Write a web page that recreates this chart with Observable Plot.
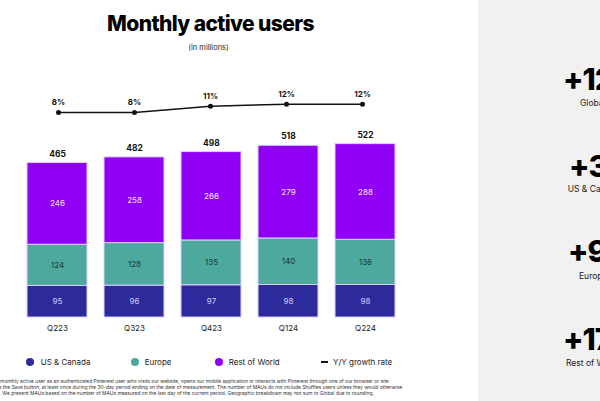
<!DOCTYPE html>
<html>
<head>
<meta charset="utf-8">
<script src="https://cdn.jsdelivr.net/npm/d3@7"></script>
<script src="https://cdn.jsdelivr.net/npm/@observablehq/plot@0.6"></script>
<style>
  html, body { margin: 0; padding: 0; }
  body { width: 600px; height: 401px; overflow: hidden; position: relative; background: #fff; font-family: Inter, "Noto Sans", sans-serif; color: #111; }
  .abs { position: absolute; white-space: nowrap; line-height: 1; }
  #panel { position: absolute; left: 478px; top: 0; width: 122px; height: 401px; background: #f1f1f1; }
  .big { font-weight: 800; font-size: 30px; letter-spacing: -1px; color: #000; }
  .small { font-size: 8.5px; color: #222; }
  .leg { font-size: 8px; color: #222; }
  .dot { position: absolute; width: 8px; height: 8px; border-radius: 50%; }
  .foot { font-size: 4.9px; color: #333; }
</style>
</head>
<body>
<div id="panel"></div>
<div class="abs" id="title" style="left:0;width:421px;text-align:center;top:12.5px;font-size:21px;font-weight:800;letter-spacing:-0.6px;color:#000;">Monthly active users</div>
<div class="abs" style="left:0;width:417px;text-align:center;top:44px;font-size:7.5px;color:#222;">(in millions)</div>
<div id="linechart" style="position:absolute;left:0;top:85px;"></div>
<div id="barchart" style="position:absolute;left:0;top:125px;"></div>
<div id="legend"></div>
<div id="footnote"></div>
<div id="side"></div>
<script>
const quarters = ["Q223", "Q323", "Q423", "Q124", "Q224"];
const regions = ["US & Canada", "Europe", "Rest of World"];
const usCanada = [95, 96, 97, 98, 98];
const europe = [124, 128, 135, 140, 136];
const restOfWorld = [246, 258, 266, 279, 288];
const totals = [465, 482, 498, 518, 522];
const growth = [8, 8, 11, 12, 12];
const regionColors = ["#2d2a9b", "#4da89d", "#9000f5"];
const labelColors = ["#cfd0ff", "#163c3a", "#f6eaff"];
const sideValues = ["+12%", "+3%", "+9%", "+17%"];
const sideLabels = ["Global", "US & Canada", "Europe", "Rest of World"];
const footLines = [
  "a monthly active user as an authenticated Pinterest user who visits our website, opens our mobile application or interacts with Pinterest through one of our browser or site",
  "as the Save button, at least once during the 30-day period ending on the date of measurement. The number of MAUs do not include Shuffles users unless they would otherwise",
  "s. We present MAUs based on the number of MAUs measured on the last day of the current period. Geographic breakdown may not sum to Global due to rounding."
];

const seriesValues = [usCanada, europe, restOfWorld];
const rows = [];
quarters.forEach((q, i) => {
  regions.forEach((r, j) => rows.push({quarter: q, region: r, value: seriesValues[j][i]}));
});
const totalRows = quarters.map((q, i) => ({quarter: q, total: totals[i]}));
const growthRows = quarters.map((q, i) => ({quarter: q, rate: growth[i]}));

// growth line
const line = Plot.plot({
  width: 420, height: 40,
  margin: 0,
  x: {type: "point", domain: quarters, range: [56.7, 364], padding: 0, axis: null},
  y: {domain: [8, 12], range: [27, 18.7], axis: null},
  style: {fontFamily: "Inter, sans-serif", background: "transparent", overflow: "visible"},
  marks: [
    Plot.line(growthRows, {x: "quarter", y: "rate", stroke: "#111", strokeWidth: 1.5}),
    Plot.dot(growthRows, {x: "quarter", y: "rate", r: 2.5, fill: "#111"}),
    Plot.text(growthRows, {x: "quarter", y: "rate", text: d => d.rate + "%", dy: -10, fontSize: 8, fontWeight: 700, fill: "#111"})
  ]
});
document.getElementById("linechart").appendChild(line);

// stacked bars
const textMarks = regions.map((r, j) =>
  Plot.text(rows, Plot.stackY({
    x: "quarter", y: "value",
    text: d => d.region === r ? String(d.value) : null,
    fill: labelColors[j], fontSize: 8
  }))
);
const bars = Plot.plot({
  width: 420, height: 215,
  marginTop: 6, marginBottom: 23, marginLeft: 7, marginRight: 6,
  x: {domain: quarters, padding: 0.223, label: null, tickSize: 0, tickPadding: 8},
  y: {domain: [0, 560], axis: null},
  color: {domain: regions, range: regionColors},
  style: {fontFamily: "Inter, sans-serif", fontSize: "8px", color: "#222", background: "transparent", overflow: "visible"},
  marks: [
    Plot.barY(rows, {x: "quarter", y: "value", fill: "region", stroke: "#ddd0ff", strokeWidth: 1}),
    ...textMarks,
    Plot.text(totalRows, {x: "quarter", y: "total", text: d => String(d.total), dy: -9, fontSize: 8.5, fontWeight: 700, fill: "#111"})
  ]
});
document.getElementById("barchart").appendChild(bars);

// legend
const legend = document.getElementById("legend");
const legItems = [
  {label: regions[0], color: regionColors[0], cx: 30.3, tx: 40.7},
  {label: regions[1], color: regionColors[1], cx: 135, tx: 144.7},
  {label: regions[2], color: regionColors[2], cx: 219, tx: 228.7}
];
legItems.forEach(it => {
  const d = document.createElement("div");
  d.className = "dot";
  d.style.left = (it.cx - 4) + "px";
  d.style.top = (362 - 4) + "px";
  d.style.background = it.color;
  legend.appendChild(d);
  const t = document.createElement("div");
  t.className = "abs leg";
  t.style.left = it.tx + "px";
  t.style.top = (362 - 4.5) + "px";
  t.textContent = it.label;
  legend.appendChild(t);
});
const dash = document.createElement("div");
dash.style.cssText = "position:absolute;left:321px;top:361px;width:7px;height:2px;background:#111;";
legend.appendChild(dash);
const gl = document.createElement("div");
gl.className = "abs leg";
gl.style.left = "333px";
gl.style.top = "357.5px";
gl.textContent = "Y/Y growth rate";
legend.appendChild(gl);

// footnote
const foot = document.getElementById("footnote");
const footLefts = [-4, -4, -3];
const footTops = [379, 385, 391];
footLines.forEach((s, i) => {
  const d = document.createElement("div");
  d.className = "abs foot";
  d.style.left = footLefts[i] + "px";
  d.style.top = footTops[i] + "px";
  d.textContent = s;
  foot.appendChild(d);
});

// side panel
const side = document.getElementById("side");
const bigLefts = [563, 569, 568, 563];
const bigBaselines = [90, 176.7, 262, 350];
const smallLefts = [580, 567.7, 579, 566];
const smallBaselines = [106, 192, 279, 366];
sideValues.forEach((v, i) => {
  const b = document.createElement("div");
  b.className = "abs big";
  b.style.left = bigLefts[i] + "px";
  b.style.top = (bigBaselines[i] - 0.863 * 30) + "px";
  b.textContent = v;
  side.appendChild(b);
  const s = document.createElement("div");
  s.className = "abs small";
  s.style.left = smallLefts[i] + "px";
  s.style.top = (smallBaselines[i] - 0.863 * 8.5) + "px";
  s.textContent = sideLabels[i];
  side.appendChild(s);
});
</script>
</body>
</html>
